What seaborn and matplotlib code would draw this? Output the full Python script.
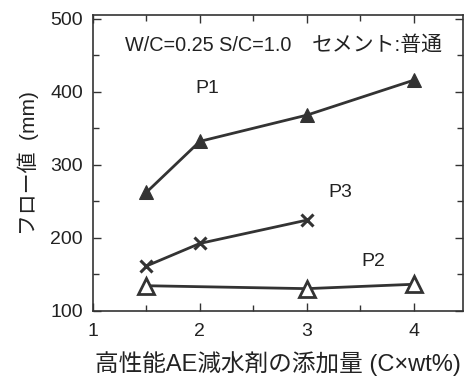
import matplotlib
matplotlib.use("Agg")
import matplotlib.pyplot as plt
from matplotlib.ticker import MultipleLocator
import pandas as pd
import seaborn as sns

# Dosage of superplasticizer (C x wt%) and flow values (mm)
p1_dose = [1.5, 2.0, 3.0, 4.0]
p1_flow = [262, 332, 368, 416]
p3_dose = [1.5, 2.0, 3.0]
p3_flow = [161, 192, 224]
p2_dose = [1.5, 3.0, 4.0]
p2_flow = [134, 130, 136]

x_ticks = [1, 2, 3, 4]
y_ticks = [100, 200, 300, 400, 500]

sns.set_theme(style="ticks")
plt.rcParams['font.family'] = ['Liberation Sans', 'Noto Sans CJK JP', 'DejaVu Sans']

fig = plt.figure(figsize=(4.76, 3.81), dpi=100)
ax = fig.add_axes([0.195, 0.185, 0.778, 0.775])

ink = "#333333"
txt = "#222222"
df = pd.concat([
    pd.DataFrame({"dose": p1_dose, "flow": p1_flow, "series": "P1"}),
    pd.DataFrame({"dose": p3_dose, "flow": p3_flow, "series": "P3"}),
    pd.DataFrame({"dose": p2_dose, "flow": p2_flow, "series": "P2"}),
])

styles = {
    "P1": dict(marker="^", markersize=9.5, markerfacecolor=ink, markeredgecolor=ink),
    "P3": dict(marker="x", markersize=8.5, markeredgewidth=2.2, markeredgecolor=ink),
    "P2": dict(marker="^", markersize=12, markerfacecolor="white", markeredgecolor=ink,
               markeredgewidth=2.0),
}
for name, st in styles.items():
    sub = df[df["series"] == name]
    sns.lineplot(data=sub, x="dose", y="flow", ax=ax, color=ink, linewidth=2.0,
                 legend=False, **st)

ax.set_xlim(1, 4.46)
ax.set_ylim(100, 505)
ax.set_xticks(x_ticks)
ax.set_yticks(y_ticks)
ax.xaxis.set_minor_locator(MultipleLocator(0.5))
ax.yaxis.set_minor_locator(MultipleLocator(50))
ax.tick_params(which="both", direction="in", top=True, right=True, colors=ink,
               labelcolor=txt, labelsize=14, width=1.0)
ax.tick_params(which="major", length=6)
ax.tick_params(axis="x", which="major", pad=9)
ax.tick_params(axis="y", which="major", pad=7)
ax.tick_params(which="minor", length=4)
for s in ax.spines.values():
    s.set_color(ink)
    s.set_linewidth(1.2)

ax.set_xlabel("高性能AE減水剤の添加量 (C×wt%)", fontsize=17, color=txt, labelpad=8)
ax.set_ylabel("フロー値  (mm)", fontsize=15, color=txt, labelpad=8)

ax.text(1.30, 464, "W/C=0.25 S/C=1.0", fontsize=14.3, color=txt,
        va="center", ha="left")
ax.text(4.27, 464, "セメント:普通", fontsize=15, color=txt,
        va="center", ha="right")
ax.text(1.96, 405, "P1", fontsize=14, color=txt, va="center", ha="left")
ax.text(3.2, 262, "P3", fontsize=14, color=txt, va="center", ha="left")
ax.text(3.51, 167, "P2", fontsize=14, color=txt, va="center", ha="left")

fig.savefig("out.png", dpi=100)
